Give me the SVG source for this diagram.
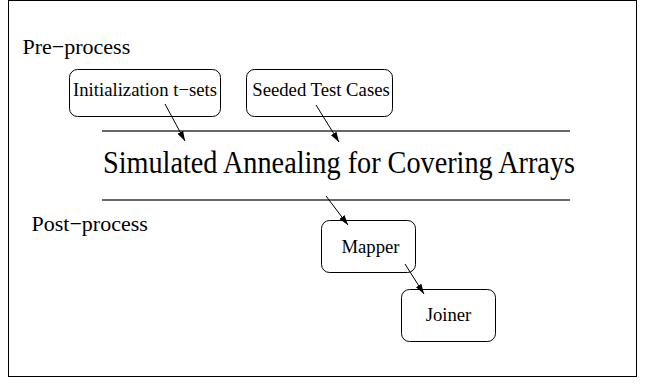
<svg xmlns="http://www.w3.org/2000/svg" width="645" height="385" viewBox="0 0 645 385">
<style>
.box{fill:#fff;stroke:#000;stroke-width:1}
.t{font-family:"Liberation Serif","Times New Roman",serif;fill:#000}
.lbl{font-size:18.7px;text-anchor:middle}
.rule{stroke:#666;stroke-width:2}
.conn{stroke:#000;stroke-width:1;fill:none;marker-end:url(#ah)}
</style>
<defs>
<marker id="ah" viewBox="0 0 10 10" refX="10" refY="5" markerWidth="10" markerHeight="10" markerUnits="userSpaceOnUse" orient="auto">
<path d="M0,1.8 L10,5 L0,8.2 Z" fill="#000"/>
</marker>
</defs>
<rect x="0" y="0" width="645" height="385" fill="#fff"/>
<rect x="8.5" y="0.5" width="628" height="376" fill="none" stroke="#000" stroke-width="1"/>
<text class="t" x="22.5" y="53.5" font-size="22">Pre−process</text>
<text class="t" x="31.5" y="231" font-size="22">Post−process</text>
<g id="rules">
<line class="rule" x1="102" y1="131" x2="570" y2="131"/>
<line class="rule" x1="102" y1="200" x2="570" y2="200"/>
</g>
<text class="t" x="103" y="173" font-size="31" textLength="472" lengthAdjust="spacingAndGlyphs">Simulated Annealing for Covering Arrays</text>
<g id="init">
<rect class="box" x="69.5" y="69.5" width="151" height="47" rx="8"/>
<text class="t lbl" x="145" y="95.5">Initialization t−sets</text>
</g>
<g id="seeded">
<rect class="box" x="246.5" y="69.5" width="146" height="47" rx="8"/>
<text class="t lbl" x="321" y="95.5">Seeded Test Cases</text>
</g>
<g id="mapper">
<rect class="box" x="321.5" y="220.5" width="94" height="52" rx="8"/>
<text class="t lbl" x="370.5" y="252.5">Mapper</text>
</g>
<g id="joiner">
<rect class="box" x="401.5" y="289.5" width="94" height="52" rx="8"/>
<text class="t lbl" x="448.5" y="321">Joiner</text>
</g>
<g id="connectors">
<line class="conn" x1="165" y1="104" x2="185" y2="141"/>
<line class="conn" x1="316" y1="105" x2="339" y2="142"/>
<line class="conn" x1="326" y1="196" x2="348" y2="225"/>
<line class="conn" x1="405" y1="264" x2="424" y2="294"/>
</g>
</svg>
